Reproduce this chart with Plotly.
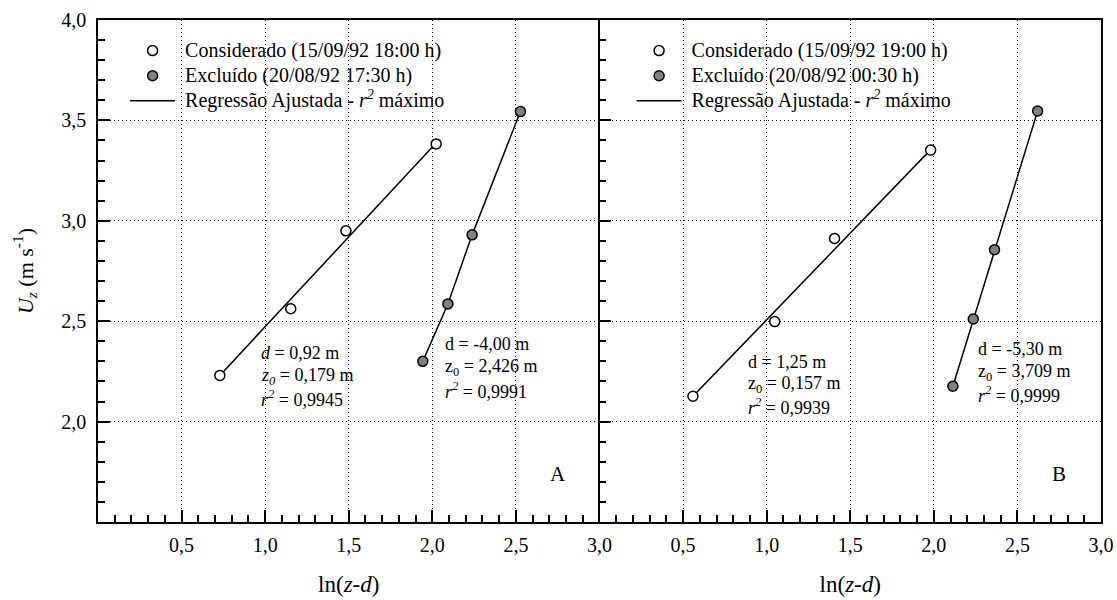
import plotly.graph_objects as go

# ---------------- data ----------------
# Panel A
a_cons_x = [0.729, 1.153, 1.483, 2.023]
a_cons_y = [2.230, 2.562, 2.950, 3.383]
a_excl_x = [1.943, 2.093, 2.238, 2.527]
a_excl_y = [2.300, 2.586, 2.930, 3.544]
a_fit_cons_x = [0.729, 2.003]
a_fit_cons_y = [2.230, 3.370]
a_fit_excl_x = [1.943, 2.093, 2.238, 2.527]
a_fit_excl_y = [2.300, 2.586, 2.930, 3.544]

# Panel B
b_cons_x = [0.559, 1.048, 1.406, 1.981]
b_cons_y = [2.126, 2.498, 2.912, 3.352]
b_excl_x = [2.114, 2.236, 2.363, 2.621]
b_excl_y = [2.176, 2.511, 2.856, 3.547]
b_fit_cons_x = [0.559, 1.961]
b_fit_cons_y = [2.126, 3.337]
b_fit_excl_x = [2.114, 2.621]
b_fit_excl_y = [2.176, 3.547]

x_tick_vals = [0.5, 1.0, 1.5, 2.0, 2.5, 3.0]
y_tick_vals = [2.0, 2.5, 3.0, 3.5, 4.0]

legend_a = ["Considerado (15/09/92 18:00 h)", "Excluído (20/08/92 17:30 h)",
            "Regressão Ajustada - <i>r</i><sup><i>2</i></sup> máximo"]
legend_b = ["Considerado (15/09/92 19:00 h)", "Excluído (20/08/92 00:30 h)",
            "Regressão Ajustada - <i>r</i><sup><i>2</i></sup> máximo"]

ann_a_cons = ["<i>d</i> = 0,92 m", "<i>z</i><sub><i>0</i></sub> = 0,179 m", "<i>r</i><sup><i>2</i></sup> = 0,9945"]
ann_a_excl = ["d = -4,00 m", "z<sub>0</sub> = 2,426 m", "<i>r</i><sup><i>2</i></sup> = 0,9991"]
ann_b_cons = ["d = 1,25 m", "z<sub>0</sub> = 0,157 m", "<i>r</i><sup><i>2</i></sup> = 0,9939"]
ann_b_excl = ["d = -5,30 m", "z<sub>0</sub> = 3,709 m", "<i>r</i><sup><i>2</i></sup> = 0,9999"]

FONT = "Liberation Serif, Times New Roman, serif"
GRAY = "#808080"


def leg_name(t):
    # legend text shown at 20px while the legend row pitch uses a smaller base size
    return '<span style="font-size:20px">\u00a0' + t + '</span>'


fig = go.Figure()


def add_panel(xa, ya, legend, cx, cy, ex, ey, fcx, fcy, fex, fey, names):
    fig.add_trace(go.Scatter(x=fcx, y=fcy, mode="lines", name=leg_name(names[2]),
                             xaxis=xa, yaxis=ya, legend=legend, legendrank=3,
                             line=dict(color="black", width=1.5)))
    fig.add_trace(go.Scatter(x=fex, y=fey, mode="lines", showlegend=False,
                             xaxis=xa, yaxis=ya, legend=legend,
                             line=dict(color="black", width=1.5)))
    fig.add_trace(go.Scatter(x=cx, y=cy, mode="markers", name=leg_name(names[0]),
                             xaxis=xa, yaxis=ya, legend=legend, legendrank=1,
                             marker=dict(symbol="circle", size=10, color="white",
                                         line=dict(color="black", width=1.5))))
    fig.add_trace(go.Scatter(x=ex, y=ey, mode="markers", name=leg_name(names[1]),
                             xaxis=xa, yaxis=ya, legend=legend, legendrank=2,
                             marker=dict(symbol="circle", size=10, color=GRAY,
                                         line=dict(color="black", width=1.5))))


add_panel("x", "y", "legend", a_cons_x, a_cons_y, a_excl_x, a_excl_y,
          a_fit_cons_x, a_fit_cons_y, a_fit_excl_x, a_fit_excl_y, legend_a)
add_panel("x2", "y2", "legend2", b_cons_x, b_cons_y, b_excl_x, b_excl_y,
          b_fit_cons_x, b_fit_cons_y, b_fit_excl_x, b_fit_excl_y, legend_b)

xcommon = dict(range=[0, 3], tickmode="array", tickvals=x_tick_vals, tickformat=".1f",
               ticks="inside", ticklen=12, tickwidth=1.5, tickcolor="black",
               showline=True, linewidth=1.5, linecolor="black", mirror=True,
               showgrid=True, gridcolor="black", gridwidth=1, griddash="1px,3px",
               zeroline=False, tickfont=dict(family=FONT, size=20, color="black"),
               ticklabelstandoff=4, automargin=False,
               minor=dict(ticks="inside", ticklen=7, tickwidth=1.5, tickcolor="black",
                          tickmode="linear", tick0=0, dtick=0.1, showgrid=False),
               title=dict(text="ln(<i>z</i>-<i>d</i>)", font=dict(family=FONT, size=23, color="black"),
                          standoff=21))
ycommon = dict(range=[1.5, 4.0], tickmode="array", tickvals=y_tick_vals, tickformat=".1f",
               ticks="inside", ticklen=12, tickwidth=1.5, tickcolor="black",
               showline=True, linewidth=1.5, linecolor="black",
               showgrid=True, gridcolor="black", gridwidth=1, griddash="1px,3px",
               zeroline=False, tickfont=dict(family=FONT, size=20, color="black"),
               automargin=False,
               minor=dict(ticks="inside", ticklen=7, tickwidth=1.5, tickcolor="black",
                          tickmode="linear", tick0=0, dtick=0.1, showgrid=False))

legend_common = dict(font=dict(family=FONT, size=17, color="black"), bgcolor="rgba(0,0,0,0)",
                     itemwidth=45, tracegroupgap=0, yanchor="top", xanchor="left",
                     traceorder="normal", itemclick=False)

fig.update_layout(
    width=1117, height=600,
    margin=dict(l=98, r=16, t=20, b=78),
    paper_bgcolor="white", plot_bgcolor="white",
    separators=",.",
    font=dict(family=FONT, size=18, color="black"),
    xaxis=dict(domain=[0, 0.5], anchor="y", **xcommon),
    yaxis=dict(domain=[0, 1], anchor="x", mirror=False, ticklabelstandoff=6,
               title=dict(text="<i>U</i><sub><i>z</i></sub> (m s<sup>-1</sup>)",
                          font=dict(family=FONT, size=22, color="black"), standoff=22),
               **ycommon),
    xaxis2=dict(domain=[0.5, 1], anchor="y2", **xcommon),
    yaxis2=dict(domain=[0, 1], anchor="x2", mirror=True, showticklabels=False, **ycommon),
    legend=dict(x=0.027, y=0.974, **legend_common),
    legend2=dict(x=0.532, y=0.974, **legend_common),
    showlegend=True,
)


# Text annotations
def add_block(xref, yref, x, ys, texts):
    for yy, t in zip(ys, texts):
        fig.add_annotation(x=x, y=yy, xref=xref, yref=yref, text=t, showarrow=False,
                           xanchor="left", yanchor="middle",
                           font=dict(family=FONT, size=18, color="black"))


add_block("x", "y", 0.962, [2.341, 2.227, 2.117], ann_a_cons)
add_block("x", "y", 2.065, [2.385, 2.269, 2.154], ann_a_excl)
add_block("x2", "y2", 0.876, [2.297, 2.185, 2.076], ann_b_cons)
add_block("x2", "y2", 2.250, [2.363, 2.244, 2.137], ann_b_excl)

fig.add_annotation(x=2.75, y=1.74, xref="x", yref="y", text="A", showarrow=False,
                   font=dict(family=FONT, size=21, color="black"))
fig.add_annotation(x=2.746, y=1.74, xref="x2", yref="y2", text="B", showarrow=False,
                   font=dict(family=FONT, size=21, color="black"))

fig.write_html("out.html")
